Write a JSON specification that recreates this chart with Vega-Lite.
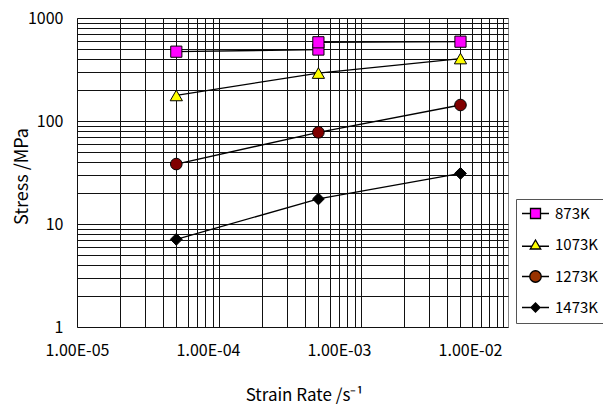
{
  "$schema": "https://vega.github.io/schema/vega-lite/v6.json",
  "width": 431,
  "height": 309,
  "autosize": {"type": "none"},
  "padding": {"left": 77, "top": 18, "right": 95, "bottom": 79},
  "background": "white",
  "config": {
    "view": {"stroke": "#888", "strokeWidth": 1},
    "font": "Noto Sans CJK JP"
  },
  "data": {
    "values": [
      {"series": "873K", "rate": 0.00005, "stress": 471},
      {"series": "873K", "rate": 0.0005, "stress": 494},
      {"series": "873K", "rate": 0.0005, "stress": 581},
      {"series": "873K", "rate": 0.005, "stress": 589},
      {"series": "1073K", "rate": 0.00005, "stress": 177},
      {"series": "1073K", "rate": 0.0005, "stress": 292},
      {"series": "1073K", "rate": 0.005, "stress": 404},
      {"series": "1273K", "rate": 0.00005, "stress": 38.2},
      {"series": "1273K", "rate": 0.0005, "stress": 77.6},
      {"series": "1273K", "rate": 0.005, "stress": 143},
      {"series": "1473K", "rate": 0.00005, "stress": 7.1},
      {"series": "1473K", "rate": 0.0005, "stress": 17.5},
      {"series": "1473K", "rate": 0.005, "stress": 31}
    ]
  },
  "encoding": {
    "x": {
      "field": "rate",
      "type": "quantitative",
      "scale": {"type": "log", "domain": [0.00001, 0.0108]},
      "axis": null
    },
    "y": {
      "field": "stress",
      "type": "quantitative",
      "scale": {"type": "log", "domain": [1, 1000]},
      "axis": {
        "values": [1, 2, 3, 4, 5, 6, 7, 8, 9, 10, 20, 30, 40, 50, 60, 70, 80, 90, 100, 200, 300, 400, 500, 600, 700, 800, 900, 1000],
        "labelExpr": "datum.value == 1 || datum.value == 10 || datum.value == 100 || datum.value == 1000 ? format(datum.value, 'd') : ''",
        "labelOverlap": false,
        "labelFontSize": 16,
        "labelColor": "#000",
        "labelPadding": 14,
        "labelOffset": 0,
        "ticks": false,
        "domain": false,
        "grid": true,
        "gridColor": "#111",
        "gridOpacity": 1,
        "gridWidth": 1,
        "title": "Stress  /MPa",
        "titleFontSize": 18,
        "titleFontWeight": "normal",
        "titleColor": "#000",
        "titleX": -55,
        "titleY": 158,
        "titleAngle": -90,
        "titleAlign": "center",
        "titleBaseline": "middle"
      }
    }
  },
  "layer": [
    {
      "mark": {"type": "point", "opacity": 0},
      "encoding": {
        "x": {
          "field": "rate",
          "type": "quantitative",
          "scale": {"type": "log", "domain": [0.00001, 0.0195]},
          "axis": {
            "orient": "bottom",
            "values": [0.00001, 0.0001, 0.001, 0.01],
            "labelExpr": "datum.value < 0.00005 ? '1.00E-05' : datum.value < 0.0005 ? '1.00E-04' : datum.value < 0.005 ? '1.00E-03' : '1.00E-02'",
            "labelOverlap": false,
            "labelFontSize": 16,
            "labelColor": "#000",
            "labelPadding": 15,
            "labelFlush": false,
            "ticks": false,
            "domain": false,
            "grid": false,
            "title": "Strain Rate  /s⁻¹",
            "titleFontSize": 17,
            "titleFontWeight": "normal",
            "titleColor": "#000",
            "titleX": 227,
            "titleY": 68,
            "titleAlign": "center",
            "titleBaseline": "middle"
          }
        }
      }
    },
    {
      "mark": {"type": "line", "color": "black", "strokeWidth": 1.3},
      "encoding": {
        "x": {
          "field": "rate",
          "type": "quantitative",
          "scale": {"type": "log", "domain": [0.00001, 0.0108]},
          "axis": {
            "orient": "bottom",
            "values": [0.00001, 0.00002, 0.00003, 0.00004, 0.00005, 0.00006, 0.00007, 0.00008, 0.00009, 0.0001, 0.0002, 0.0003, 0.0004, 0.0005, 0.0006, 0.0007, 0.0008, 0.0009, 0.001, 0.002, 0.003, 0.004, 0.005, 0.006, 0.007, 0.008, 0.009, 0.01],
            "labels": false,
            "ticks": false,
            "domain": false,
            "grid": true,
            "gridColor": "#111",
            "gridOpacity": 1,
            "gridWidth": 1,
            "title": null
          }
        },
        "detail": {"field": "series", "type": "nominal"},
        "order": {"field": "stress", "type": "quantitative"}
      }
    },
    {
      "transform": [{"filter": "datum.series == '873K'"}],
      "mark": {"type": "point", "shape": "square", "filled": true, "fill": "#FF00FF", "opacity": 1, "size": 125, "stroke": "black", "strokeWidth": 1}
    },
    {
      "transform": [{"filter": "datum.series == '1073K'"}],
      "mark": {"type": "point", "shape": "triangle-up", "filled": true, "fill": "#FFFF00", "opacity": 1, "size": 150, "stroke": "black", "strokeWidth": 1}
    },
    {
      "transform": [{"filter": "datum.series == '1273K'"}],
      "mark": {"type": "point", "shape": "circle", "filled": true, "fill": "#800000", "opacity": 1, "size": 135, "stroke": "black", "strokeWidth": 1}
    },
    {
      "transform": [{"filter": "datum.series == '1473K'"}],
      "mark": {"type": "point", "shape": "diamond", "filled": true, "fill": "#000000", "opacity": 1, "size": 140, "stroke": "black", "strokeWidth": 1}
    },
    {
      "mark": {"type": "point", "filled": true, "opacity": 0, "stroke": "black", "strokeWidth": 1},
      "encoding": {
        "shape": {
          "field": "series",
          "type": "nominal",
          "scale": {
            "domain": ["873K", "1073K", "1273K", "1473K"],
            "range": [
              "M-2.7,0H-1M1,0H2.7M-1,-1H1V1H-1Z",
              "M-2.7,0.35H-0.75M0.75,0.35H2.7M0,-0.9L1.05,0.9H-1.05Z",
              "M-2.7,0H-1.15M1.15,0H2.7M-1.15,0A1.15,1.15 0 1,0 1.15,0A1.15,1.15 0 1,0 -1.15,0Z",
              "M-2.7,0H-0.9M0.9,0H2.7M-0.9,0L0,-0.9L0.9,0L0,0.9Z"
            ]
          },
          "legend": {
            "orient": "none",
            "legendX": 439,
            "legendY": 181,
            "title": null,
            "padding": 7,
            "symbolOffset": 5,
            "symbolSize": 100,
            "symbolStrokeColor": "black",
            "symbolStrokeWidth": 1.2,
            "symbolOpacity": 1,
            "labelOffset": 12,
            "labelFontSize": 15,
            "labelColor": "#000",
            "rowPadding": 15,
            "strokeColor": "#555",
            "fillColor": "white",
            "encode": {
              "symbols": {
                "update": {
                  "stroke": {"value": "black"},
                  "strokeWidth": {"value": 1.3},
                  "strokeOpacity": {"value": 1}
                }
              }
            }
          }
        },
        "fill": {
          "field": "series",
          "type": "nominal",
          "scale": {"domain": ["873K", "1073K", "1273K", "1473K"], "range": ["#FF00FF", "#FFFF00", "#993300", "#000000"]},
          "legend": {
            "orient": "none",
            "legendX": 439,
            "legendY": 181,
            "title": null,
            "padding": 7,
            "symbolOffset": 5,
            "symbolSize": 100,
            "symbolStrokeColor": "black",
            "symbolStrokeWidth": 1.2,
            "symbolOpacity": 1,
            "labelOffset": 12,
            "labelFontSize": 15,
            "labelColor": "#000",
            "rowPadding": 15,
            "strokeColor": "#555",
            "fillColor": "white",
            "encode": {
              "symbols": {
                "update": {
                  "stroke": {"value": "black"},
                  "strokeWidth": {"value": 1.3},
                  "strokeOpacity": {"value": 1}
                }
              }
            }
          }
        }
      }
    }
  ],
  "resolve": {
    "scale": {"x": "independent"},
    "axis": {"x": "independent"}
  }
}
